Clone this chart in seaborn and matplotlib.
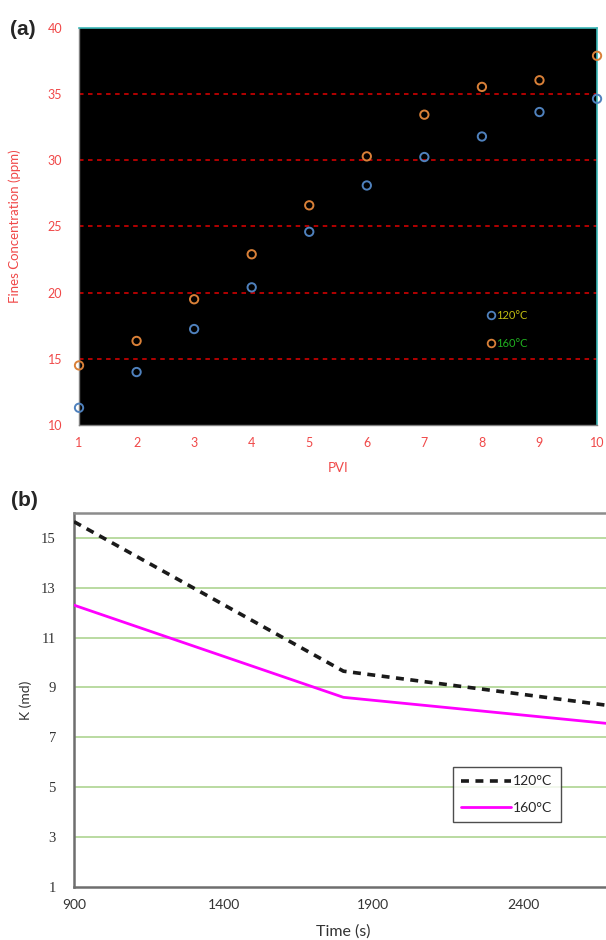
import numpy as np
import pandas as pd
import matplotlib
matplotlib.use("Agg")
import matplotlib.pyplot as plt
from matplotlib.lines import Line2D
import seaborn as sns

# Panel (a): fines concentration vs PVI
pvi = [1, 2, 3, 4, 5, 6, 7, 8, 9, 10]
fines_120 = [11.3, 14.0, 17.25, 20.4, 24.6, 28.1, 30.25, 31.8, 33.65, 34.65]
fines_160 = [14.5, 16.35, 19.5, 22.9, 26.6, 30.3, 33.45, 35.55, 36.05, 37.9]

# Panel (b): permeability vs time
time_s = [900, 1800, 2700]
k_120 = [15.65, 9.65, 8.25]
k_160 = [12.3, 8.6, 7.53]

temps = ["120°C", "160°C"]

sns.set_style("white")
plt.rcParams["font.family"] = ["Lato", "DejaVu Sans"]

fig = plt.figure(figsize=(6.06, 9.40), dpi=100)

# ---------- (a) ----------
ax1 = fig.add_axes([0.1304, 0.5479, 0.8548, 0.4223])
ax1.set_facecolor("black")

df_a = pd.DataFrame({
    "PVI": pvi + pvi,
    "fines": fines_120 + fines_160,
    "temp": [temps[0]] * len(pvi) + [temps[1]] * len(pvi),
})
pal_a = {temps[0]: "#4f81bd", temps[1]: "#d98038"}
sns.scatterplot(data=df_a, x="PVI", y="fines", hue="temp", palette=pal_a,
                s=36, linewidth=1.4, ax=ax1, legend=False, clip_on=False, zorder=3)
coll = ax1.collections[0]
coll.set_edgecolors(coll.get_facecolors())
coll.set_facecolors("none")

ax1.set_xlim(1, 10)
ax1.set_ylim(10, 40)
ax1.set_xticks(range(1, 11))
ax1.set_yticks(range(10, 41, 5))
for yv in range(15, 40, 5):
    ax1.axhline(yv, color="#c00000", ls=(0, (2.5, 2.5)), lw=1.3, zorder=1)
ax1.tick_params(axis="both", colors="#f04848", labelsize=9, length=0)
ax1.tick_params(axis="y", pad=12)
ax1.tick_params(axis="x", pad=9)
for s in ["left", "bottom"]:
    ax1.spines[s].set_color("#808080")
    ax1.spines[s].set_linewidth(1.0)
for s in ["top", "right"]:
    ax1.spines[s].set_color("#3cb8b8")
    ax1.spines[s].set_linewidth(1.2)
ax1.set_xlabel("PVI", color="#f04848", fontsize=9.5)
ax1.set_ylabel("Fines Concentration (ppm)", color="#f04848", fontsize=9.5)
ax1.xaxis.set_label_coords(0.5, -0.093)
ax1.yaxis.set_label_coords(-0.112, 0.5)

h_a = [Line2D([], [], marker="o", ls="", mfc="none", mec=pal_a[t], mew=1.3, ms=5.5)
       for t in temps]
ax1.legend(h_a, temps, loc="upper left", bbox_to_anchor=(0.78, 0.30),
           frameon=False, fontsize=8, handlelength=0.6, handletextpad=0.2,
           labelspacing=1.5, borderaxespad=0,
           labelcolor=["#c0bc10", "#20b020"])

# ---------- (b) ----------
ax2 = fig.add_axes([0.1221, 0.0567, 0.8779, 0.3976])

df_b = pd.DataFrame({
    "Time (s)": time_s + time_s,
    "K": k_120 + k_160,
    "temp": [temps[0]] * len(time_s) + [temps[1]] * len(time_s),
})
sns.lineplot(data=df_b, x="Time (s)", y="K", hue="temp", style="temp",
             palette={temps[0]: "#1a1a1a", temps[1]: "#ff00ff"},
             dashes={temps[0]: (2.2, 1.8), temps[1]: ""},
             ax=ax2, legend=False, zorder=3)
ax2.lines[0].set_linewidth(2.6)
ax2.lines[1].set_linewidth(2.0)

ax2.set_xlim(900, 2677)
ax2.set_ylim(1, 16)
ax2.set_xticks([900, 1400, 1900, 2400])
ax2.set_yticks(range(1, 16, 2))
for yv in range(3, 16, 2):
    ax2.axhline(yv, color="#b4d89a", lw=1.3, zorder=1)
ax2.tick_params(axis="both", colors="#333333", labelsize=10, length=0)
ax2.tick_params(axis="y", pad=13)
ax2.tick_params(axis="x", pad=9)
for lab in ax2.get_yticklabels():
    lab.set_family("Liberation Serif")
    lab.set_fontsize(10.5)
for s in ["left", "bottom"]:
    ax2.spines[s].set_color("#6e6e6e")
    ax2.spines[s].set_linewidth(1.8)
ax2.spines["top"].set_color("#8c8c8c")
ax2.spines["top"].set_linewidth(1.8)
ax2.spines["right"].set_visible(False)
ax2.set_xlabel("Time (s)", color="#333333", fontsize=11.5)
ax2.set_ylabel("K (md)", color="#333333", fontsize=10)
ax2.xaxis.set_label_coords(0.507, -0.1)
ax2.yaxis.set_label_coords(-0.079, 0.5)

h_b = [Line2D([], [], color="#1a1a1a", lw=2.6, ls=(0, (2.2, 1.8))),
       Line2D([], [], color="#ff00ff", lw=2.0)]
leg = ax2.legend(h_b, temps, loc="upper left", bbox_to_anchor=(0.712, 0.32),
                 fontsize=10, handlelength=3.6, handletextpad=0.15,
                 labelspacing=1.05, borderaxespad=0, fancybox=False,
                 edgecolor="#222222", borderpad=0.6)
leg.get_frame().set_linewidth(1.0)

fig.text(0.016, 0.969, "(a)", fontsize=15, fontweight="bold",
         family="Liberation Sans", va="center")
fig.text(0.018, 0.468, "(b)", fontsize=15, fontweight="bold",
         family="Liberation Sans", va="center")

fig.savefig("out.png", dpi=100)
